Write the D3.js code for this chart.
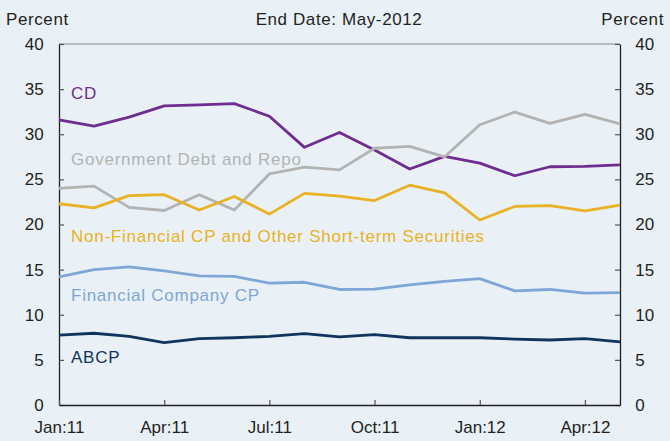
<!DOCTYPE html>
<html>
<head>
<meta charset="utf-8">
<script src="https://cdn.jsdelivr.net/npm/d3@7"></script>
<style>
  body { margin: 0; background: #e9f1f6; }
  svg text { font-family: "Liberation Sans", Arial, sans-serif; fill: #231f20; }
</style>
</head>
<body>
<div id="chart"></div>
<script>
// monthly data, Jan:11 to May:12
var months = ["Jan:11", "Feb:11", "Mar:11", "Apr:11", "May:11", "Jun:11", "Jul:11", "Aug:11", "Sep:11",
  "Oct:11", "Nov:11", "Dec:11", "Jan:12", "Feb:12", "Mar:12", "Apr:12", "May:12"];
var tickMonths = ["Jan:11", "Apr:11", "Jul:11", "Oct:11", "Jan:12", "Apr:12"];
var yTicks = [0, 5, 10, 15, 20, 25, 30, 35, 40];

var cd = [31.6, 30.9, 31.9, 33.15, 33.25, 33.4, 32.0, 28.55, 30.2, 28.25, 26.15, 27.55, 26.8, 25.4, 26.4, 26.45, 26.6];
var govDebt = [24.0, 24.25, 21.9, 21.55, 23.3, 21.6, 25.6, 26.35, 26.05, 28.45, 28.65, 27.5, 31.05, 32.45, 31.2, 32.2, 31.15];
var nonFin = [22.3, 21.85, 23.2, 23.3, 21.6, 23.1, 21.15, 23.45, 23.15, 22.65, 24.35, 23.5, 20.5, 22.0, 22.1, 21.5, 22.15];
var finCP = [14.2, 15.0, 15.3, 14.85, 14.3, 14.25, 13.5, 13.6, 12.8, 12.85, 13.3, 13.7, 14.0, 12.65, 12.8, 12.4, 12.45];
var abcp = [7.75, 7.95, 7.6, 6.9, 7.35, 7.45, 7.6, 7.9, 7.55, 7.8, 7.45, 7.45, 7.45, 7.3, 7.2, 7.35, 7.0];

var seriesNames = ["CD", "Government Debt and Repo", "Non-Financial CP and Other Short-term Securities", "Financial Company CP", "ABCP"];
var seriesValues = [cd, govDebt, nonFin, finCP, abcp];
var seriesColors = ["#6f2c91", "#b3b3b3", "#e9b124", "#7ea6d7", "#0f355e"];
var labelY = [99, 165, 241.5, 300.5, 363]; // baseline of inline labels

var svgWidth = 670, svgHeight = 441;
var margin = {top: 44, right: 50, bottom: 36, left: 59};
var width = svgWidth - margin.left - margin.right,
    height = svgHeight - margin.top - margin.bottom;

var svg = d3.select("#chart").append("svg")
  .attr("width", svgWidth)
  .attr("height", svgHeight);

svg.append("rect")
  .attr("width", svgWidth)
  .attr("height", svgHeight)
  .attr("fill", "#e9f1f6");

var chart = svg.append("g")
  .attr("transform", "translate(" + margin.left + "," + margin.top + ")");

var xScale = d3.scalePoint()
  .domain(months)
  .range([0, width]);

var yScale = d3.scaleLinear()
  .domain([0, 40])
  .range([height, 0]);

// top frame line
chart.append("line")
  .attr("x1", 0).attr("x2", width)
  .attr("y1", 0).attr("y2", 0)
  .attr("stroke", "#8a8a8a")
  .attr("stroke-width", 1.2);

// left axis, ticks pointing in
var leftAxis = d3.axisLeft(yScale).tickValues(yTicks).tickSizeInner(-5).tickSizeOuter(0).tickPadding(17);
var gl = chart.append("g").call(leftAxis);

var rightAxis = d3.axisRight(yScale).tickValues(yTicks).tickSizeInner(-5).tickSizeOuter(0).tickPadding(17);
var gr = chart.append("g")
  .attr("transform", "translate(" + width + ",0)")
  .call(rightAxis);

var bottomAxis = d3.axisBottom(xScale).tickValues(tickMonths).tickSizeInner(-5).tickSizeOuter(0).tickPadding(16);
var gb = chart.append("g")
  .attr("transform", "translate(0," + height + ")")
  .call(bottomAxis);

[gl, gr, gb].forEach(function(g) {
  g.select(".domain").attr("stroke", "#231f20").attr("stroke-width", 1.3);
  g.selectAll(".tick line").attr("stroke", "#555").attr("stroke-width", 1.2);
  g.selectAll(".tick text")
    .attr("font-size", "17px")
    .attr("fill", "#231f20");
});
gl.selectAll(".tick text").attr("dx", "0.1em");
gr.selectAll(".tick text").attr("dx", "-0.1em");

var line = d3.line()
  .x(function(d, i) { return xScale(months[i]); })
  .y(function(d) { return yScale(d); });

seriesValues.forEach(function(vals, k) {
  chart.append("path")
    .datum(vals)
    .attr("fill", "none")
    .attr("stroke", seriesColors[k])
    .attr("stroke-width", 2.8)
    .attr("stroke-linejoin", "round")
    .attr("d", line);
});

seriesNames.forEach(function(name, k) {
  svg.append("text")
    .attr("x", 71)
    .attr("y", labelY[k])
    .attr("font-size", "17px")
    .attr("letter-spacing", "0.75px")
    .style("fill", seriesColors[k])
    .text(name);
});

svg.append("text")
  .attr("x", 6).attr("y", 25)
  .attr("font-size", "17px")
  .attr("letter-spacing", "0.6px")
  .text("Percent");

svg.append("text")
  .attr("x", 664).attr("y", 25)
  .attr("text-anchor", "end")
  .attr("font-size", "17px")
  .attr("letter-spacing", "0.6px")
  .text("Percent");

svg.append("text")
  .attr("x", 339).attr("y", 25)
  .attr("text-anchor", "middle")
  .attr("font-size", "17px")
  .attr("letter-spacing", "0.6px")
  .text("End Date: May-2012");
</script>
</body>
</html>
